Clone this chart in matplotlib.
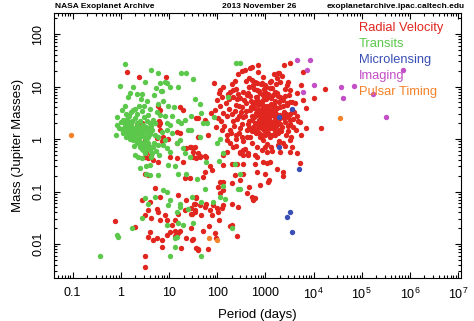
import matplotlib
matplotlib.use("Agg")
import matplotlib.pyplot as plt
from matplotlib.ticker import FixedLocator, LogLocator, NullFormatter

plt.rcParams["font.family"] = ["Liberation Sans", "DejaVu Sans"]
plt.rcParams["mathtext.fontset"] = "custom"
plt.rcParams["mathtext.rm"] = "Liberation Sans"
plt.rcParams["mathtext.it"] = "Liberation Sans:italic"

# (period [days], mass [Jupiter masses]), per discovery method
transits = [
    (1.23, 27), (4.3, 21), (5.8, 18.5), (18, 18.5), (22, 17.8), (0.95, 10.4), (1.8, 10),
    (3.2, 12), (6.5, 11.5), (8.4, 12.3), (5.4, 9.2), (10.4, 10), (9.0, 11.8), (15.5, 10),
    (7.0, 8.1), (245, 28), (295, 28), (32, 13.7), (34, 5.9), (44, 4.6), (47, 3.2), (87, 2.6),
    (51, 2.0), (62, 2.0), (29, 1.5), (44, 1.1), (117, 1.0), (97, 0.83), (134, 0.53), (164, 6.2),
    (1.54, 7.4), (2.2, 7.2), (2.8, 7.2), (6.8, 8.2), (1.22, 4.2), (1.81, 3.5), (2.4, 4.3),
    (3.0, 4.2), (4.0, 3.8), (9.6, 4.2), (12.5, 4.1), (0.82, 1.85), (0.81, 1.2), (1.13, 2.3),
    (1.32, 2.4), (1.22, 2.0), (1.45, 2.15), (1.65, 2.0), (1.32, 1.72), (1.54, 1.6), (1.13, 1.48),
    (1.32, 1.38), (1.65, 1.38), (1.81, 1.28), (1.45, 1.2), (2.0, 1.11), (2.12, 0.96), (1.05, 1.52),
    (6.5, 2.9), (8.2, 2.7), (11.3, 2.7), (15.5, 2.2), (21, 2.3), (18, 2.0), (29, 2.7), (4.0, 2.0),
    (4.7, 2.3), (3.4, 1.72), (2.9, 1.48), (8.9, 2.0), (10.4, 1.85), (7.0, 1.38), (8.9, 1.48),
    (11.3, 1.28), (25, 1.48), (1.81, 0.96), (2.12, 0.83), (2.49, 0.71), (2.9, 0.62), (3.4, 0.96),
    (3.7, 0.83), (4.0, 0.62), (6.0, 0.77), (7.6, 0.77), (8.9, 0.66), (10.4, 0.57), (8.2, 0.96),
    (14.4, 0.83), (16.8, 0.96), (19.7, 0.66), (21, 0.53), (27, 0.46), (2.0, 0.50), (2.3, 0.46),
    (2.7, 0.43), (4.0, 0.32), (3.4, 0.30), (2.49, 0.28), (9.6, 0.32), (13.3, 0.30),
    (1.2, 1.8), (1.4, 1.6), (1.6, 1.75), (1.9, 1.55), (2.3, 1.3), (2.6, 1.15), (3.1, 1.05),
    (1.7, 1.1), (2.4, 0.9), (2.8, 0.85), (3.2, 0.75), (3.6, 0.65), (4.4, 0.55), (4.8, 0.85),
    (5.2, 1.2), (3.5, 1.35), (3.9, 1.55), (4.3, 1.8), (1.25, 3.0), (1.5, 2.7), (1.95, 2.5),
    (2.5, 2.2), (3.0, 2.6), (3.6, 2.9), (2.2, 3.0), (5.5, 3.3), (6.0, 4.6), (7.5, 5.3),
    (3.5, 5.2), (2.6, 5.8), (1.4, 6.3), (4.9, 6.8),
    (1.1, 1.3), (1.25, 1.1), (1.35, 1.9), (1.5, 1.45), (1.55, 1.0), (1.7, 2.2), (1.75, 1.4),
    (1.85, 0.75), (2.05, 1.7), (2.15, 2.05), (2.25, 1.5), (2.35, 1.05), (2.5, 0.85), (2.55, 1.7),
    (2.7, 1.3), (2.75, 0.65), (2.9, 1.85), (3.0, 1.15), (3.1, 0.55), (3.25, 1.6), (3.3, 0.9),
    (3.45, 2.2), (3.6, 1.1), (3.8, 0.75), (4.1, 1.25), (4.2, 0.45), (4.5, 1.5), (4.6, 0.7),
    (5.0, 2.0), (5.3, 0.6), (5.8, 1.1), (6.2, 0.5), (1.0, 2.1), (0.9, 1.6), (0.85, 2.6),
    (1.05, 3.5), (1.6, 3.3), (2.0, 3.8), (2.7, 3.4),
    (6.0, 0.21), (15.5, 0.22), (23, 0.22), (3.4, 0.22), (4.0, 0.21), (8.9, 0.10), (7.6, 0.107),
    (10.4, 0.069), (3.1, 0.075), (3.7, 0.059), (5.2, 0.08), (9.6, 0.055), (16.9, 0.059),
    (30, 0.08), (16.9, 0.051), (14.4, 0.041), (2.7, 0.031), (8.9, 0.023), (15.5, 0.025),
    (19.8, 0.023), (25, 0.047), (1.67, 0.020), (0.82, 0.015), (0.88, 0.0138), (13.3, 0.0128),
    (14.4, 0.0138), (13.3, 0.0089), (10.4, 0.0059), (0.37, 0.0059),
    (58, 0.37), (38, 0.17), (56, 0.11), (47, 0.063), (80, 0.063), (32, 0.025), (47, 0.0059),
    (110, 0.38), (233, 0.33), (296, 0.22), (134, 0.13), (117, 0.08), (145, 0.071), (274, 0.11),
    (296, 0.11), (199, 0.020),
]

radial_velocity = [
    (1.35, 18.6), (2.4, 15.4), (8.5, 15),
    (5.9, 4.2), (6.6, 3.6), (16.8, 4.1), (19.7, 3.6), (40, 2.5), (2.12, 1.95), (2.7, 2.0),
    (2.8, 1.7), (6.3, 2.2), (6.3, 1.85), (4.1, 1.3), (14.4, 1.38), (16.8, 1.28), (3.2, 0.96),
    (3.4, 0.77), (5.5, 1.04), (7.0, 0.9), (27, 0.71), (34, 0.71), (32, 0.57), (40, 0.53),
    (37, 0.43), (3.2, 0.46), (3.7, 0.43), (4.7, 0.40), (6.0, 0.37), (10.4, 0.46), (14.4, 0.43),
    (19.7, 0.37), (3.4, 0.53), (4.3, 0.50),
    (6.5, 1.49), (7.6, 1.1), (9.7, 1.0), (14.4, 0.83), (23, 0.67), (32, 0.67), (40, 1.1),
    (3.8, 0.71), (3.3, 0.96), (6.4, 2.0), (2.5, 1.49), (2.3, 1.28),
    (517, 24), (2460, 25.7), (3225, 27.7), (320, 20), (380, 21), (478, 23), (700, 19),
    (1800, 18), (1950, 18), (5900, 19), (274, 17.3), (460, 14.3), (517, 13.3), (460, 9.9),
    (560, 10.6), (656, 11.5), (840, 11.5), (977, 10.6), (1340, 13), (1706, 14.3), (85, 11.8),
    (134, 9.9), (114, 8.6), (184, 8.0), (215, 8.6), (123, 6.2), (215, 6.2), (252, 5.9),
    (347, 8.0), (407, 6.9), (656, 6.4), (770, 7.6), (977, 8.0), (1241, 9.3), (1706, 7.6),
    (2000, 6.4), (2750, 10.6), (3225, 8.6), (4433, 7.4), (5600, 10.6), (2750, 4.8), (3225, 5.1),
    (37, 2.5), (56, 2.3), (60, 2.15), (114, 4.2), (134, 3.1), (105, 2.5), (123, 1.49),
    (184, 1.49), (157, 1.2), (65, 1.2), (29, 0.71), (44, 0.46), (58, 0.46), (184, 0.83),
    (215, 0.71), (296, 0.53), (347, 0.62), (441, 0.5), (656, 0.46), (840, 0.62), (977, 0.71),
    (1340, 0.71), (1850, 0.77), (2345, 0.83), (3225, 0.96), (3500, 0.71), (4433, 0.53),
    (6900, 1.6), (5200, 2.15), (3225, 2.3), (4433, 2.7), (6100, 5.5), (6900, 3.85),
    (17000, 8.9), (14000, 1.65), (10200, 6.0),
    (200, 3.0), (220, 1.8), (240, 4.5), (260, 2.4), (280, 1.3), (300, 6.0), (310, 3.3),
    (330, 1.9), (350, 0.9), (370, 2.8), (390, 4.9), (410, 1.5), (430, 7.5), (450, 2.2),
    (470, 3.6), (490, 1.1), (510, 5.4), (530, 2.7), (550, 1.7), (570, 9.0), (590, 3.9),
    (610, 2.0), (630, 1.3), (650, 6.3), (670, 2.9), (690, 4.4), (710, 1.6), (730, 2.3),
    (750, 8.1), (770, 3.2), (790, 1.9), (810, 5.0), (830, 2.6), (850, 1.2), (870, 3.8),
    (890, 6.8), (910, 2.1), (930, 1.5), (950, 4.2), (970, 2.8), (1000, 1.8), (1030, 5.8),
    (1060, 3.1), (1090, 2.0), (1120, 1.3), (1150, 7.2), (1180, 3.5), (1210, 2.4), (1240, 1.6),
    (1280, 4.6), (1320, 2.9), (1360, 1.9), (1400, 9.5), (1450, 3.4), (1500, 2.2), (1550, 1.4),
    (1600, 5.2), (1650, 2.6), (1700, 1.8), (1760, 3.9), (1820, 6.5), (1880, 2.4), (1940, 1.5),
    (2000, 4.1), (2100, 2.8), (2200, 1.7), (2300, 5.6), (2400, 3.3), (2500, 2.1), (2650, 1.2),
    (2800, 4.4), (2950, 2.6), (3100, 6.9), (3300, 1.9), (3500, 3.6), (3800, 2.4), (4100, 4.8),
    (4400, 1.5), (250, 0.75), (380, 0.65), (520, 0.85), (680, 0.7), (880, 0.95), (1100, 0.8),
    (1400, 0.6), (1900, 0.9), (2600, 0.75), (3400, 1.1), (420, 1.1), (460, 1.6), (540, 2.3),
    (600, 1.4), (640, 3.2), (720, 2.0), (780, 1.1), (820, 3.5), (900, 1.7), (960, 2.4),
    (1050, 1.4), (1130, 2.7), (1200, 1.9), (1270, 3.1), (1350, 1.2), (1480, 2.7), (1580, 3.3),
    (1720, 2.3), (1850, 1.3), (2050, 1.9), (2250, 2.6), (2700, 3.0), (3000, 1.4), (330, 4.0),
    (360, 5.5), (480, 6.5), (560, 4.6), (700, 5.3), (860, 4.7), (1000, 3.7), (1080, 4.3),
    (1300, 6.1), (1600, 7.8), (2150, 6.0), (2600, 8.8), (3600, 5.0), (1700, 11), (1050, 10),
    (800, 11), (600, 12), (2000, 12), (450, 10),
    (90, 3.5), (100, 5.5), (120, 2.2), (140, 1.8), (150, 4.8), (160, 2.7), (170, 7.2),
    (180, 3.8), (190, 1.3), (210, 2.2), (230, 3.4), (240, 1.2), (160, 0.95), (175, 5.9),
    (95, 1.7), (75, 3.2), (110, 7.5), (200, 11), (230, 13), (250, 9), (270, 7.3), (290, 4.2),
    (280, 2.8), (300, 1.6), (320, 1.1), (250, 1.0),
    (340, 2.6), (400, 3.4), (440, 1.9), (500, 4.0), (520, 1.4), (580, 2.6), (620, 5.1),
    (660, 1.9), (700, 3.6), (740, 1.3), (760, 4.7), (800, 2.4), (840, 1.6), (880, 5.6),
    (920, 3.1), (980, 1.2), (1020, 2.3), (1070, 6.5), (1110, 1.7), (1160, 4.0), (1220, 2.9),
    (1260, 1.1), (1300, 2.1), (1380, 3.8), (1420, 1.6), (1520, 4.5), (1620, 1.2), (1680, 3.0),
    (1780, 2.0), (1900, 5.0), (1980, 2.9), (2150, 1.4), (2350, 4.3), (2450, 2.5), (2900, 1.8),
    (3200, 3.0), (3700, 1.7), (4000, 3.3), (4800, 2.2), (5500, 1.2), (1450, 7.0), (950, 9.0),
    (2600, 6.5), (680, 8.5), (1250, 12), (3000, 12), (390, 13), (880, 15), (1500, 17),
    (2200, 16), (700, 26),
    (71, 0.30), (56, 0.24), (77, 0.26), (51, 0.19), (134, 0.32), (199, 0.34), (252, 0.33),
    (347, 0.34), (606, 0.34), (902, 0.37), (1058, 0.35), (1241, 0.37), (233, 0.21), (347, 0.22),
    (296, 0.166), (656, 0.24), (977, 0.22), (1706, 0.27), (2345, 0.24), (2345, 0.20),
    (5200, 0.35), (114, 0.15), (134, 0.15), (105, 0.124), (134, 0.107), (114, 0.092), (37, 0.075),
    (33, 0.059), (44, 0.055), (29, 0.048), (29, 0.038), (35, 0.041), (47, 0.035), (56, 0.051),
    (60, 0.059), (71, 0.044), (83, 0.055), (97, 0.048), (123, 0.048), (134, 0.055), (77, 0.035),
    (105, 0.040), (199, 0.143), (199, 0.059), (274, 0.051), (460, 0.124), (517, 0.080),
    (606, 0.075), (560, 0.069), (770, 0.133), (1146, 0.154), (1200, 0.166), (407, 0.092),
    (29, 0.020), (32, 0.0124), (40, 0.0080), (63, 0.0081), (51, 0.018), (90, 0.016), (94, 0.013),
    (184, 0.022), (199, 0.023), (260, 0.0142), (68, 0.022), (110, 0.029),
    (134, 0.50), (157, 0.57), (296, 0.57), (347, 0.50), (441, 0.53), (606, 0.50), (1058, 0.57),
    (2000, 0.57), (3225, 0.57), (32, 0.46), (44, 0.47), (56, 0.47),
    (21, 0.18), (27, 0.18), (3.1, 0.22), (3.7, 0.21), (5.2, 0.115), (2.7, 0.07), (4.0, 0.064),
    (6.5, 0.08), (15.5, 0.086), (23, 0.069), (37, 0.08), (34, 0.059), (3.7, 0.044), (5.5, 0.047),
    (6.0, 0.041), (3.1, 0.036), (4.3, 0.031), (6.5, 0.029), (8.2, 0.036), (8.9, 0.029),
    (13.3, 0.029), (15.5, 0.038), (21, 0.044), (30, 0.038), (34, 0.044), (13.3, 0.018),
    (16.9, 0.018), (11.3, 0.023), (0.75, 0.027), (1.95, 0.021), (4.0, 0.017), (3.7, 0.0138),
    (5.5, 0.0128), (7.0, 0.0119), (8.9, 0.0148), (10.4, 0.017), (15.5, 0.016), (23, 0.0128),
    (13.3, 0.014), (4.7, 0.0119), (7.0, 0.0089), (18, 0.0083), (30, 0.0119), (37, 0.0083),
    (40, 0.0077), (3.1, 0.0059), (3.2, 0.0037),
]

microlensing = [(3500, 3.7), (1950, 2.6), (1900, 0.71), (5000, 0.27), (3300, 0.04),
                (2800, 0.032), (3500, 0.017)]
imaging = [(4600, 32), (8500, 32), (7300, 20.6), (10000, 10.7), (5900, 8), (7.2e5, 21),
           (3.8e4, 10), (6.9e4, 10.2), (4.1e4, 6), (3.2e5, 2.6), (1.7e5, 7.2)]
pulsar_timing = [(0.092, 1.2), (3.6e4, 2.5), (68, 0.013), (101, 0.0119)]

methods = ["Radial Velocity", "Transits", "Microlensing", "Imaging", "Pulsar Timing"]
colors = ["#e0261f", "#5cc84b", "#3a4fb5", "#c24fc6", "#f4822a"]
series = [radial_velocity, transits, microlensing, imaging, pulsar_timing]

x_ticks = [0.1, 1, 10, 100, 1000, 1e4, 1e5, 1e6, 1e7]
x_labels = ["0.1", "1", "10", "100", "1000", "$10^4$", "$10^5$", "$10^6$", "$10^7$"]
y_ticks = [0.01, 0.1, 1, 10, 100]
y_labels = ["0.01", "0.1", "1", "10", "100"]

fig = plt.figure(figsize=(4.74, 3.21), dpi=100)
ax = fig.add_axes([54 / 474, 1 - 277.5 / 321, 407 / 474, 264.8 / 321])

# transits underneath, then radial velocity, then the rare methods
for i in [1, 0, 2, 3, 4]:
    pts = series[i]
    ax.scatter([p for p, m in pts], [m for p, m in pts], s=15, c=colors[i],
               linewidths=0, zorder=2 + i)

ax.set_xscale("log")
ax.set_yscale("log")
ax.set_xlim(0.041, 1.15e7)
ax.set_ylim(0.0023, 255)

ax.xaxis.set_major_locator(FixedLocator(x_ticks))
ax.set_xticklabels(x_labels)
ax.xaxis.set_minor_locator(LogLocator(base=10, subs=range(2, 10), numticks=20))
ax.xaxis.set_minor_formatter(NullFormatter())
ax.yaxis.set_major_locator(FixedLocator(y_ticks))
ax.set_yticklabels(y_labels, rotation=90, va="center")
ax.yaxis.set_minor_locator(LogLocator(base=10, subs=range(2, 10), numticks=20))
ax.yaxis.set_minor_formatter(NullFormatter())

ax.tick_params(which="both", direction="in", top=True, right=True, width=0.8,
               labelsize=9, pad=7)
ax.tick_params(which="major", length=4.5)
ax.tick_params(which="minor", length=2.3)
for sp in ax.spines.values():
    sp.set_linewidth(0.8)

ax.set_xlabel("Period (days)", fontsize=9.5, labelpad=5)
ax.set_ylabel("Mass (Jupiter Masses)", fontsize=9.5, labelpad=6)

# method key as coloured text
for i, name in enumerate(methods):
    fig.text(359 / 474, 1 - (31.5 + 15.8 * i) / 321, name, color=colors[i],
             fontsize=9.3, ha="left", va="baseline")

fig.text(55 / 474, 1 - 7.5 / 321, "NASA Exoplanet Archive", fontsize=6, weight="bold",
         ha="left", va="baseline")
fig.text(259 / 474, 1 - 7.5 / 321, "2013 November 26", fontsize=6, weight="bold",
         ha="center", va="baseline")
fig.text(465 / 474, 1 - 7.5 / 321, "exoplanetarchive.ipac.caltech.edu", fontsize=6,
         weight="bold", ha="right", va="baseline")

fig.savefig("out.png", dpi=100)
